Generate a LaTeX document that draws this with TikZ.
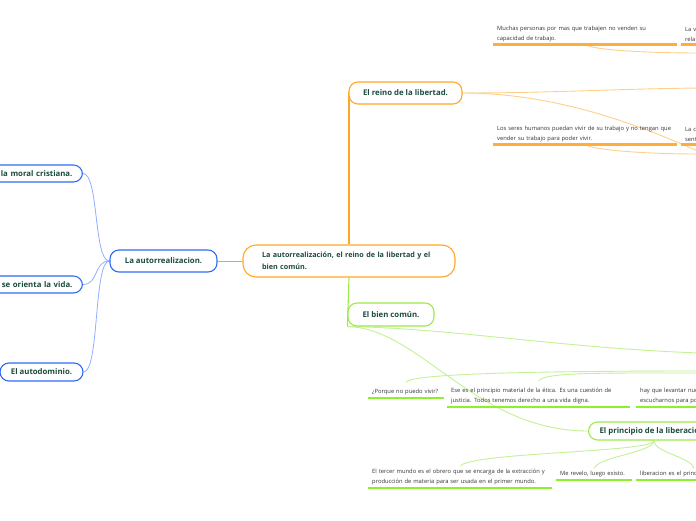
\documentclass[tikz,border=0pt]{standalone}
\usepackage{fontspec}
\setmainfont{Open Sans}
\usetikzlibrary{backgrounds}
\definecolor{orB}{HTML}{FFA726}
\definecolor{orU}{HTML}{FFAD3B}
\definecolor{orL}{HTML}{FFD08A}
\definecolor{blB}{HTML}{2F6BF5}
\definecolor{blL}{HTML}{8FAEFF}
\definecolor{grB}{HTML}{9BEA48}
\definecolor{grU}{HTML}{8CF02A}
\definecolor{grL}{HTML}{C2F294}
\definecolor{ttl}{HTML}{1B4B3C}
\definecolor{lf}{HTML}{333333}
\tikzset{
  topic/.style={draw, fill=white, line width=1.1pt, rounded corners=9pt, inner sep=0pt,
    text=ttl, font=\bfseries\fontsize{7.8}{10}\selectfont},
  leaf/.style={anchor=south west, inner xsep=4pt, inner ysep=2.8pt,
    align=left, text=lf, font=\fontsize{5.8}{10}\selectfont},
  ulo/.style={draw=orU, line width=2.5pt},
  ulg/.style={draw=grU, line width=2.5pt},
  lo/.style={draw=orL, line width=0.9pt},
  lb/.style={draw=blL, line width=0.8pt},
  lg/.style={draw=grL, line width=0.9pt},
}
\begin{document}
\begin{tikzpicture}[x=1pt,y=-1pt]
\useasboundingbox (0,0) rectangle (696,520);
\clip (0,0) rectangle (696,520);
% central
\node[topic, draw=orB, rounded corners=13pt, minimum width=212pt, minimum height=32pt,
  text width=174pt, align=left, font=\bfseries\fontsize{7.2}{12}\selectfont] (c) at (349,261)
  {La autorrealización, el reino de la libertad y el\\bien común.};
% blue side
\node[topic, draw=blB, minimum width=107pt, minimum height=22pt] (auto) at (163.5,261) {La autorrealizacion.};
\node[topic, draw=blB, anchor=east, text width=150pt, align=right, inner xsep=10pt, minimum height=17pt] (moral) at (83,173.5) {la moral cristiana.};
\node[topic, draw=blB, anchor=east, text width=150pt, align=right, inner xsep=10pt, minimum height=17pt] (orienta) at (83,284.5) {se orienta la vida.};
\node[topic, draw=blB, minimum width=83pt, minimum height=18pt] (autod) at (41.5,372) {El autodominio.};
% orange side
\node[topic, draw=orB, minimum width=113pt, minimum height=22pt] (reino) at (405.5,93) {El reino de la libertad.};
\node[leaf, text width=176pt] (m1) at (493,44.5) {Muchas personas por mas que trabajen no venden su\\capacidad de trabajo.};
\node[leaf, text width=176pt] (v1) at (681,44.5) {La v\\rela};
\node[leaf, text width=176pt] (s1) at (493,144.5) {Los seres humanos puedan vivir de su trabajo y no tengan que\\vender su trabajo para poder vivir.};
\node[leaf, text width=176pt] (c1) at (681,144.5) {La c\\sent};
% green side
\node[topic, draw=grB, minimum width=86pt, minimum height=23pt] (bien) at (391,314.5) {El bien común.};
\node[leaf, text width=68pt] (p1) at (368,398) {¿Porque no puedo vivir?};
\node[leaf, text width=175pt] (e1) at (447,407) {Ese es el principio material de la ética. Es una cuestión de\\justicia. Todos tenemos derecho a una vida digna.};
\node[leaf, text width=175pt] (h1) at (636,407) {hay que levantar nue\\escucharnos para po};
\node[topic, draw=grB, anchor=west, inner xsep=11pt, minimum height=18pt] (princ) at (588,431) {El principio de la liberación.};
\node[leaf, text width=176pt] (t1) at (368,488) {El tercer mundo es el obrero que se encarga de la extracción y\\producción de materia para ser usada en el primer mundo.};
\node[leaf, text width=68pt] (r1) at (556,480) {Me revelo, luego existo.};
\node[leaf, text width=108pt] (l1) at (636,480) {liberacion es el princ};
% free ends
\coordinate (oA) at (700,88);
\coordinate (oB) at (700,152);
\coordinate (oC) at (700,53);
\coordinate (oD) at (700,154);
\coordinate (gA) at (700,353);
\coordinate (gB) at (700,371);
\coordinate (gC) at (700,373);
\coordinate (pb) at ([xshift=66pt]princ.south west);
\begin{pgfonlayer}{background}
\draw[lb] (auto.east) -- (c.west);
\draw[lb] (moral.east) .. controls +(16,0) and +(-16,0) .. (auto.west);
\draw[lb] (orienta.east) .. controls +(16,0) and +(-16,0) .. (auto.west);
\draw[lb] (autod.east) .. controls +(16,0) and +(-16,0) .. (auto.west);
\draw[draw=orB, line width=1.1pt] (c.north) |- (reino.west);
\draw[draw=grB, line width=1.1pt] (c.south) -- (bien.south west);
\draw[lo] (reino.east) .. controls +(90,0) and +(-90,1) .. (oA);
\draw[lo] (reino.east) .. controls +(100,0) and +(-50,-22) .. (oB);
\draw[lo] (m1.south) .. controls +(6,5) and +(-60,0) .. (oC);
\draw[lo] (s1.south) .. controls +(6,5) and +(-60,0) .. (oD);
\draw[lg] (bien.south west) .. controls (450,328) and (560,348) .. (gA);
\draw[lg] (bien.south west) .. controls (420,328) and (475,431) .. (princ.west);
\draw[lg] ([yshift=4pt]p1.north) .. controls +(4,-9) and +(-150,0) .. (gB);
\draw[lg] ([yshift=4pt]e1.north) .. controls +(4,-9) and +(-100,0) .. (gC);
\draw[lg] (pb) .. controls +(0,12) and +(10,-14) .. (t1.north);
\draw[lg] (pb) .. controls +(0,12) and +(5,-12) .. (r1.north);
\draw[lg] (pb) .. controls +(0,12) and +(-5,-12) .. (l1.north);
\end{pgfonlayer}
% underlines
\draw[ulo] (m1.south west) -- (m1.south east);
\draw[ulo] (v1.south west) -- (v1.south east);
\draw[ulo] (s1.south west) -- (s1.south east);
\draw[ulo] (c1.south west) -- (c1.south east);
\draw[ulg] (p1.south west) -- (p1.south east);
\draw[ulg] (e1.south west) -- (e1.south east);
\draw[ulg] (h1.south west) -- (h1.south east);
\draw[ulg] (t1.south west) -- (t1.south east);
\draw[ulg] (r1.south west) -- (r1.south east);
\draw[ulg] (l1.south west) -- (l1.south east);
\end{tikzpicture}
\end{document}
